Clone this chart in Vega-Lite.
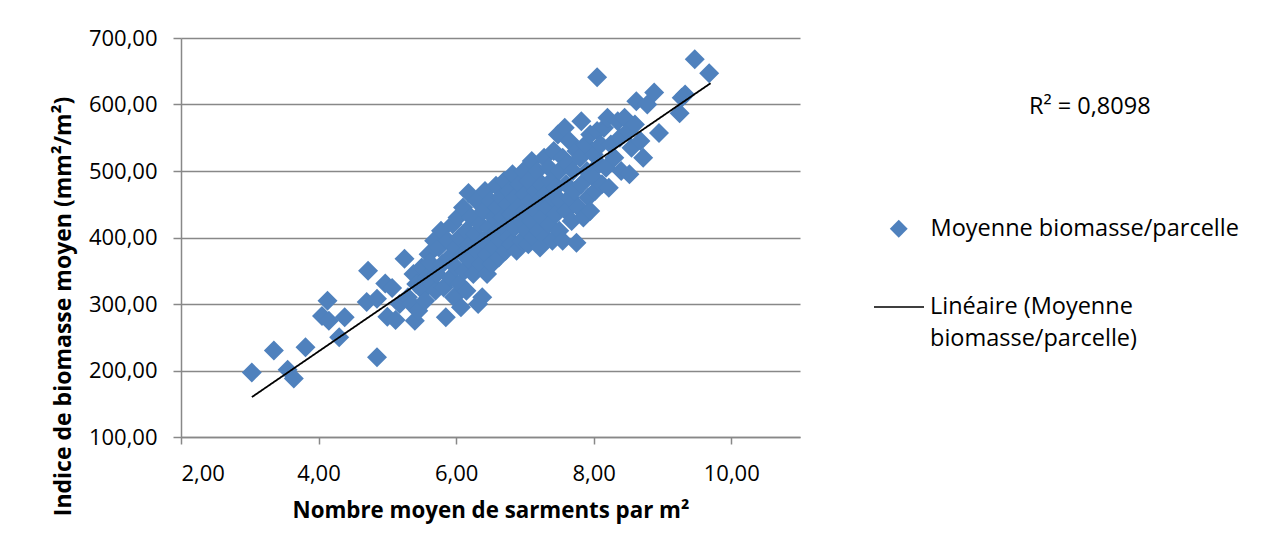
{
  "$schema": "https://vega.github.io/schema/vega-lite/v6.json",
  "width": 619,
  "height": 399,
  "autosize": {"type": "none"},
  "padding": {"left": 181, "top": 38, "right": 468, "bottom": 118},
  "background": "white",
  "config": {
    "font": "Open Sans",
    "view": {"stroke": null},
    "style": {"guide-label": {"lineHeight": 32}},
    "axis": {
      "labelFont": "Open Sans",
      "labelFontSize": 22,
      "labelColor": "#000000",
      "titleFont": "Open Sans",
      "titleFontWeight": "bold",
      "titleColor": "#000000",
      "domainColor": "#888888",
      "domainWidth": 1.5,
      "tickColor": "#888888",
      "tickWidth": 1.5,
      "gridColor": "#888888",
      "gridWidth": 1.5
    },
    "legend": {"labelFont": "Open Sans", "labelFontSize": 23.5, "labelColor": "#000000"}
  },
  "title": {
    "text": "R² = 0,8098",
    "anchor": "start",
    "frame": "group",
    "orient": "top",
    "offset": 0,
    "dx": 848,
    "dy": 103,
    "baseline": "middle",
    "font": "Open Sans",
    "fontSize": 23.5,
    "fontWeight": "normal",
    "color": "#000000"
  },
  "datasets": {
    "pts": [
      {"x": 3.03, "y": 197}, {"x": 3.35, "y": 230}, {"x": 3.55, "y": 201}, {"x": 3.64, "y": 188},
      {"x": 3.81, "y": 235}, {"x": 4.05, "y": 282}, {"x": 4.13, "y": 305}, {"x": 4.15, "y": 275},
      {"x": 4.30, "y": 250}, {"x": 4.38, "y": 280}, {"x": 4.72, "y": 350}, {"x": 4.70, "y": 303},
      {"x": 4.85, "y": 220}, {"x": 4.85, "y": 308}, {"x": 4.97, "y": 331}, {"x": 5.07, "y": 324},
      {"x": 5.00, "y": 281}, {"x": 5.12, "y": 276}, {"x": 5.18, "y": 300},
      {"x": 5.25, "y": 368}, {"x": 5.30, "y": 310}, {"x": 5.35, "y": 300}, {"x": 5.38, "y": 345},
      {"x": 5.40, "y": 275}, {"x": 5.45, "y": 290}, {"x": 5.42, "y": 330}, {"x": 5.50, "y": 355},
      {"x": 5.52, "y": 320}, {"x": 5.55, "y": 305}, {"x": 5.58, "y": 340}, {"x": 5.60, "y": 375},
      {"x": 5.62, "y": 362}, {"x": 5.65, "y": 330}, {"x": 5.68, "y": 395}, {"x": 5.70, "y": 320},
      {"x": 5.72, "y": 345}, {"x": 5.75, "y": 385}, {"x": 5.78, "y": 410}, {"x": 5.80, "y": 360},
      {"x": 5.82, "y": 325}, {"x": 5.85, "y": 280}, {"x": 5.88, "y": 395}, {"x": 5.90, "y": 370},
      {"x": 5.92, "y": 340}, {"x": 5.95, "y": 420}, {"x": 5.97, "y": 310}, {"x": 6.00, "y": 385},
      {"x": 6.00, "y": 355}, {"x": 6.02, "y": 430}, {"x": 6.05, "y": 400}, {"x": 6.05, "y": 330},
      {"x": 6.07, "y": 295}, {"x": 6.10, "y": 445}, {"x": 6.10, "y": 375}, {"x": 6.12, "y": 350},
      {"x": 6.15, "y": 410}, {"x": 6.15, "y": 320}, {"x": 6.18, "y": 467}, {"x": 6.20, "y": 390},
      {"x": 6.20, "y": 365}, {"x": 6.22, "y": 430}, {"x": 6.25, "y": 345}, {"x": 6.28, "y": 405},
      {"x": 6.30, "y": 455}, {"x": 6.30, "y": 380}, {"x": 6.32, "y": 300}, {"x": 6.35, "y": 420},
      {"x": 6.35, "y": 360}, {"x": 6.38, "y": 310}, {"x": 6.40, "y": 440}, {"x": 6.40, "y": 395},
      {"x": 6.42, "y": 470}, {"x": 6.45, "y": 375}, {"x": 6.45, "y": 345}, {"x": 6.48, "y": 415},
      {"x": 6.50, "y": 455}, {"x": 6.50, "y": 400}, {"x": 6.52, "y": 360}, {"x": 6.55, "y": 430},
      {"x": 6.55, "y": 385}, {"x": 6.58, "y": 478}, {"x": 6.60, "y": 445}, {"x": 6.60, "y": 410},
      {"x": 6.62, "y": 370}, {"x": 6.65, "y": 460}, {"x": 6.65, "y": 395}, {"x": 6.68, "y": 430},
      {"x": 6.70, "y": 485}, {"x": 6.70, "y": 415}, {"x": 6.72, "y": 380}, {"x": 6.75, "y": 450},
      {"x": 6.75, "y": 400}, {"x": 6.78, "y": 470}, {"x": 6.80, "y": 435}, {"x": 6.80, "y": 390},
      {"x": 6.82, "y": 495}, {"x": 6.85, "y": 460}, {"x": 6.85, "y": 415}, {"x": 6.88, "y": 380},
      {"x": 6.90, "y": 445}, {"x": 6.92, "y": 480}, {"x": 6.95, "y": 425}, {"x": 6.95, "y": 395},
      {"x": 6.98, "y": 500}, {"x": 7.00, "y": 465}, {"x": 7.00, "y": 440}, {"x": 7.02, "y": 410},
      {"x": 7.05, "y": 485}, {"x": 7.05, "y": 390}, {"x": 7.08, "y": 455}, {"x": 7.10, "y": 515},
      {"x": 7.10, "y": 425}, {"x": 7.12, "y": 400}, {"x": 7.15, "y": 470}, {"x": 7.15, "y": 440},
      {"x": 7.18, "y": 500}, {"x": 7.20, "y": 455}, {"x": 7.20, "y": 410}, {"x": 7.22, "y": 385},
      {"x": 7.25, "y": 480}, {"x": 7.25, "y": 430}, {"x": 7.28, "y": 520}, {"x": 7.30, "y": 465},
      {"x": 7.30, "y": 400}, {"x": 7.33, "y": 445}, {"x": 7.35, "y": 505}, {"x": 7.35, "y": 420},
      {"x": 7.38, "y": 485}, {"x": 7.40, "y": 460}, {"x": 7.40, "y": 395}, {"x": 7.42, "y": 530},
      {"x": 7.45, "y": 475}, {"x": 7.45, "y": 435}, {"x": 7.48, "y": 555}, {"x": 7.50, "y": 500},
      {"x": 7.50, "y": 410}, {"x": 7.52, "y": 455}, {"x": 7.55, "y": 520}, {"x": 7.55, "y": 395},
      {"x": 7.58, "y": 565}, {"x": 7.60, "y": 480}, {"x": 7.60, "y": 440}, {"x": 7.62, "y": 510},
      {"x": 7.65, "y": 545}, {"x": 7.65, "y": 460}, {"x": 7.68, "y": 425}, {"x": 7.70, "y": 500},
      {"x": 7.72, "y": 470}, {"x": 7.75, "y": 530}, {"x": 7.75, "y": 392}, {"x": 7.78, "y": 445},
      {"x": 7.80, "y": 520}, {"x": 7.82, "y": 575}, {"x": 7.82, "y": 480}, {"x": 7.85, "y": 430},
      {"x": 7.88, "y": 540}, {"x": 7.90, "y": 500}, {"x": 7.92, "y": 460}, {"x": 7.95, "y": 555},
      {"x": 7.95, "y": 440}, {"x": 8.00, "y": 525}, {"x": 8.00, "y": 490}, {"x": 8.02, "y": 470},
      {"x": 8.05, "y": 641}, {"x": 8.05, "y": 560}, {"x": 8.08, "y": 510}, {"x": 8.10, "y": 540},
      {"x": 8.12, "y": 480}, {"x": 8.15, "y": 565}, {"x": 8.18, "y": 505}, {"x": 8.20, "y": 580},
      {"x": 8.22, "y": 475}, {"x": 8.25, "y": 540}, {"x": 8.30, "y": 520}, {"x": 8.35, "y": 575},
      {"x": 8.38, "y": 550}, {"x": 8.40, "y": 500}, {"x": 8.45, "y": 580}, {"x": 8.50, "y": 560},
      {"x": 8.52, "y": 495}, {"x": 8.55, "y": 535}, {"x": 8.60, "y": 570}, {"x": 8.62, "y": 605},
      {"x": 8.68, "y": 545}, {"x": 8.72, "y": 520}, {"x": 8.78, "y": 600}, {"x": 8.88, "y": 618},
      {"x": 8.95, "y": 557}, {"x": 9.25, "y": 587}, {"x": 9.28, "y": 610}, {"x": 9.33, "y": 615},
      {"x": 9.47, "y": 668}, {"x": 9.68, "y": 647}
    ],
    "fit": [{"x": 3.03, "y": 160}, {"x": 9.7, "y": 632}]
  },
  "layer": [
    {
      "data": {"name": "pts"},
      "mark": {"type": "point", "shape": "diamond", "filled": true, "size": 400, "opacity": 1},
      "encoding": {
        "x": {
          "field": "x", "type": "quantitative",
          "scale": {"domain": [2, 11], "nice": false, "zero": false},
          "axis": {
            "values": [2, 4, 6, 8, 10],
            "labelExpr": "replace(format(datum.value, '.2f'), '.', ',')",
            "grid": false,
            "tickSize": 7,
            "labelPadding": 19,
            "title": "Nombre moyen de sarments par m²",
            "titleFontSize": 22.3,
            "titlePadding": 15
          }
        },
        "y": {
          "field": "y", "type": "quantitative",
          "scale": {"domain": [100, 700], "nice": false, "zero": false},
          "axis": {
            "values": [100, 200, 300, 400, 500, 600, 700],
            "labelExpr": "replace(format(datum.value, '.2f'), '.', ',')",
            "grid": true,
            "tickSize": 8,
            "labelPadding": 16,
            "title": "Indice de biomasse moyen  (mm²/m²)",
            "titleFontSize": 23,
            "titleAngle": -90,
            "titleX": -118,
            "titleY": 268,
            "titleAlign": "center",
            "titleBaseline": "middle"
          }
        },
        "color": {
          "datum": "Moyenne biomasse/parcelle",
          "type": "nominal",
          "scale": {"domain": ["Moyenne biomasse/parcelle"], "range": ["#4F81BD"]},
          "legend": {
            "title": null,
            "orient": "none",
            "legendX": 706,
            "legendY": 179,
            "padding": 0,
            "symbolType": "diamond",
            "symbolSize": 320,
            "symbolStrokeWidth": 0,
            "labelOffset": 20,
            "labelLimit": 0,
            "labelBaseline": "middle"
          }
        }
      }
    },
    {
      "data": {"name": "fit"},
      "mark": {"type": "line", "strokeWidth": 1.8, "color": "#000000"},
      "encoding": {
        "x": {"field": "x", "type": "quantitative"},
        "y": {"field": "y", "type": "quantitative"},
        "strokeDash": {
          "datum": "Linéaire (Moyenne biomasse/parcelle)",
          "type": "nominal",
          "scale": {"domain": ["Linéaire (Moyenne biomasse/parcelle)"], "range": [[1, 0]]},
          "legend": {
            "title": null,
            "orient": "none",
            "legendX": 692,
            "legendY": 243,
            "padding": 0,
            "symbolType": "stroke",
            "symbolSize": 2500,
            "symbolStrokeColor": "#000000",
            "symbolStrokeWidth": 1.5,
            "labelOffset": 5,
            "labelLimit": 0,
            "labelBaseline": "middle",
            "labelExpr": "['Linéaire (Moyenne', 'biomasse/parcelle)']"
          }
        }
      }
    }
  ]
}
